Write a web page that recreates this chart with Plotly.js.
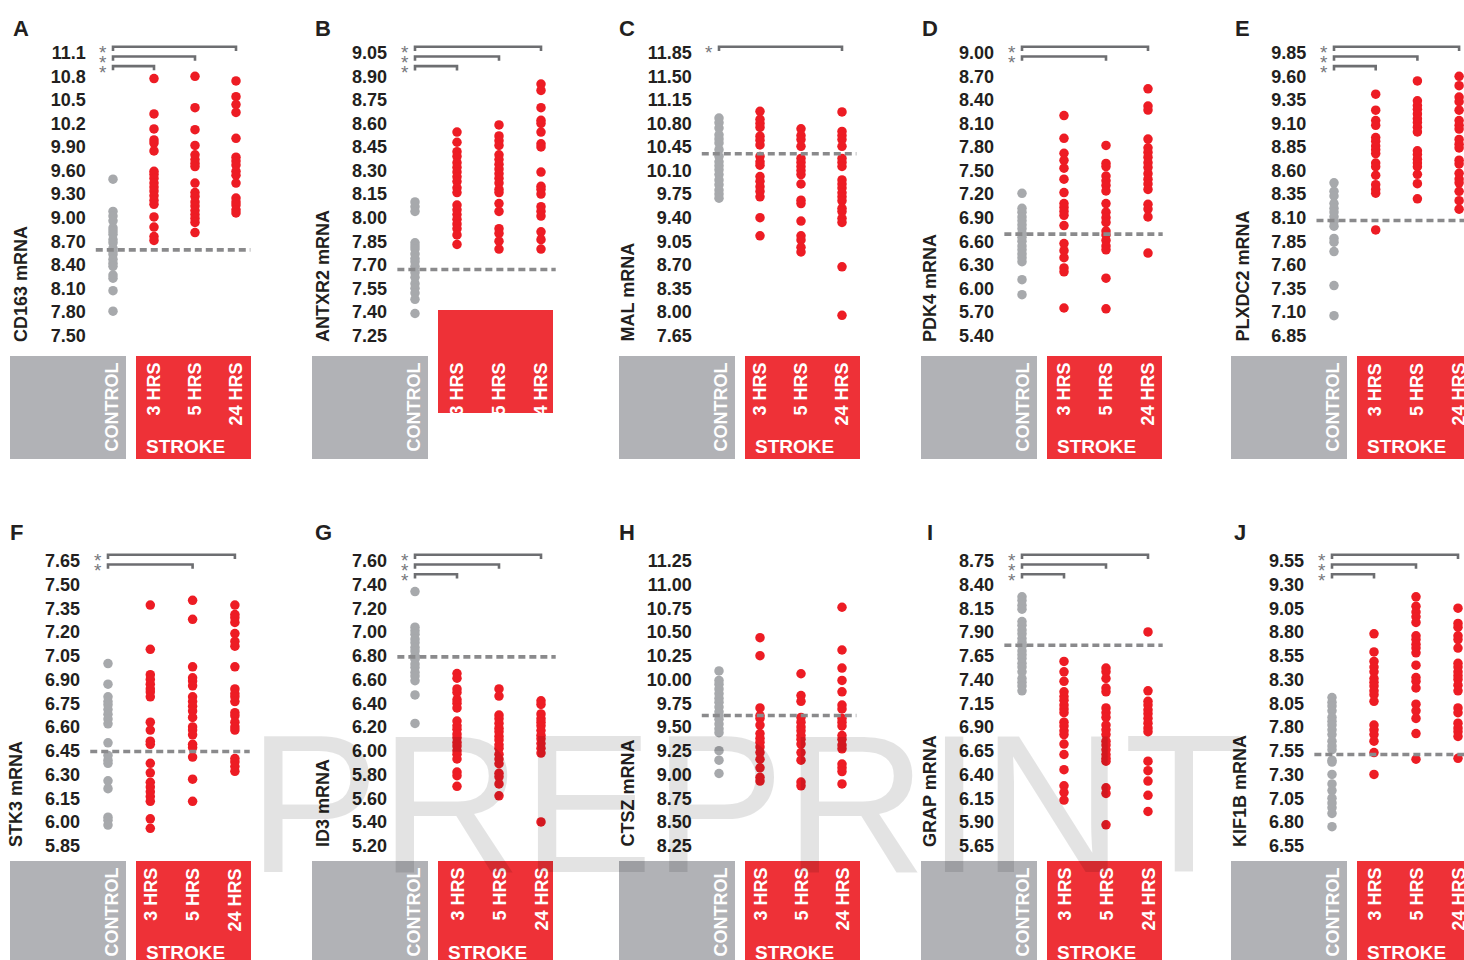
<!DOCTYPE html>
<html><head><meta charset="utf-8">
<script src="https://cdn.plot.ly/plotly-3.0.1.min.js"></script>
<style>html,body{margin:0;padding:0;background:#fff;}#chart{width:1464px;height:960px;}</style>
</head><body><div id="chart"></div>
<script>
// ---------- DATA ----------
const groups = ['CONTROL', '3 HRS', '5 HRS', '24 HRS'];
const panelLetters = ['A','B','C','D','E','F','G','H','I','J'];
const genes = ['CD163','ANTXR2','MAL','PDK4','PLXDC2','STK3','ID3','CTSZ','GRAP','KIF1B'];

const ticksCD163  = ['7.50','7.80','8.10','8.40','8.70','9.00','9.30','9.60','9.90','10.2','10.5','10.8','11.1'];
const ticksANTXR2 = ['7.25','7.40','7.55','7.70','7.85','8.00','8.15','8.30','8.45','8.60','8.75','8.90','9.05'];
const ticksMAL    = ['7.65','8.00','8.35','8.70','9.05','9.40','9.75','10.10','10.45','10.80','11.15','11.50','11.85'];
const ticksPDK4   = ['5.40','5.70','6.00','6.30','6.60','6.90','7.20','7.50','7.80','8.10','8.40','8.70','9.00'];
const ticksPLXDC2 = ['6.85','7.10','7.35','7.60','7.85','8.10','8.35','8.60','8.85','9.10','9.35','9.60','9.85'];
const ticksSTK3   = ['5.85','6.00','6.15','6.30','6.45','6.60','6.75','6.90','7.05','7.20','7.35','7.50','7.65'];
const ticksID3    = ['5.20','5.40','5.60','5.80','6.00','6.20','6.40','6.60','6.80','7.00','7.20','7.40','7.60'];
const ticksCTSZ   = ['8.25','8.50','8.75','9.00','9.25','9.50','9.75','10.00','10.25','10.50','10.75','11.00','11.25'];
const ticksGRAP   = ['5.65','5.90','6.15','6.40','6.65','6.90','7.15','7.40','7.65','7.90','8.15','8.40','8.75'];
const ticksKIF1B  = ['6.55','6.80','7.05','7.30','7.55','7.80','8.05','8.30','8.55','8.80','9.05','9.30','9.55'];

const cd163Control = [9.49,9.08,9.02,8.96,8.87,8.83,8.79,8.72,8.68,8.61,8.57,8.53,8.47,8.42,8.38,8.27,8.23,8.07,7.81];
const cd163Hr3  = [10.77,10.32,10.13,9.99,9.95,9.85,9.59,9.55,9.50,9.44,9.39,9.34,9.28,9.22,9.17,9.01,8.88,8.76,8.71];
const cd163Hr5  = [10.80,10.40,10.12,9.92,9.80,9.74,9.69,9.65,9.44,9.32,9.27,9.20,9.15,9.09,9.04,8.99,8.94,8.81];
const cd163Hr24 = [10.74,10.54,10.44,10.34,10.01,9.77,9.72,9.67,9.59,9.54,9.44,9.25,9.20,9.16,9.10,9.06];

const antxr2Control = [8.10,8.07,8.04,7.84,7.82,7.80,7.77,7.74,7.72,7.69,7.65,7.62,7.58,7.55,7.52,7.48,7.39];
const antxr2Hr3  = [8.545,8.48,8.42,8.39,8.35,8.32,8.29,8.26,8.23,8.19,8.16,8.08,8.05,8.02,7.99,7.96,7.93,7.89,7.83];
const antxr2Hr5  = [8.59,8.52,8.49,8.46,8.40,8.37,8.34,8.31,8.28,8.25,8.22,8.18,8.16,8.09,8.04,7.93,7.90,7.85,7.80];
const antxr2Hr24 = [8.85,8.81,8.70,8.62,8.60,8.545,8.47,8.45,8.29,8.20,8.18,8.15,8.07,8.04,8.01,7.91,7.86,7.80];

const malControl = [10.88,10.81,10.73,10.63,10.57,10.51,10.41,10.31,10.23,10.17,10.11,10.04,9.96,9.89,9.81,9.75,9.69];
const malHr3  = [10.98,10.86,10.80,10.74,10.61,10.55,10.48,10.31,10.23,10.18,10.01,9.94,9.86,9.79,9.71,9.40,9.13];
const malHr5  = [10.72,10.62,10.56,10.46,10.28,10.22,10.16,10.10,10.04,9.90,9.66,9.61,9.35,9.13,9.07,8.96,8.89];
const malHr24 = [10.97,10.68,10.62,10.56,10.46,10.28,10.22,10.16,9.96,9.90,9.84,9.77,9.71,9.65,9.54,9.49,9.39,9.33,8.67,7.95];

const pdk4Control = [7.21,7.02,6.97,6.91,6.86,6.81,6.76,6.70,6.65,6.60,6.54,6.49,6.44,6.39,6.34,6.11,5.92];
const pdk4Hr3  = [8.20,7.91,7.72,7.63,7.53,7.39,7.22,7.08,7.03,6.98,6.93,6.80,6.57,6.48,6.39,6.26,6.21,5.75];
const pdk4Hr5  = [7.82,7.59,7.55,7.43,7.37,7.31,7.24,7.08,6.97,6.90,6.84,6.73,6.68,6.61,6.54,6.49,6.13,5.74];
const pdk4Hr24 = [8.54,8.32,8.27,7.90,7.79,7.73,7.67,7.60,7.54,7.46,7.39,7.33,7.26,7.07,7.01,6.91,6.45];

const plxdc2Control = [8.47,8.38,8.33,8.25,8.20,8.16,8.11,8.06,8.01,7.88,7.84,7.74,7.38,7.06];
const plxdc2Hr3  = [9.41,9.24,9.13,9.08,8.95,8.91,8.86,8.82,8.78,8.68,8.64,8.55,8.45,8.40,8.36,7.97];
const plxdc2Hr5  = [9.55,9.34,9.29,9.25,9.20,9.15,9.11,9.06,9.01,8.81,8.77,8.72,8.68,8.64,8.56,8.46,8.30];
const plxdc2Hr24 = [9.60,9.50,9.38,9.33,9.24,9.13,9.08,9.04,8.93,8.88,8.84,8.71,8.67,8.57,8.51,8.47,8.38,8.28,8.19];

const stk3Control = [7.00,6.87,6.79,6.76,6.74,6.71,6.68,6.65,6.62,6.50,6.42,6.39,6.37,6.26,6.21,6.03,6.01,5.98];
const stk3Hr3  = [7.37,7.09,6.93,6.90,6.87,6.84,6.82,6.79,6.63,6.58,6.51,6.49,6.37,6.31,6.25,6.22,6.19,6.16,6.13,6.02,5.96];
const stk3Hr5  = [7.40,7.28,6.98,6.91,6.89,6.86,6.79,6.76,6.73,6.70,6.66,6.60,6.58,6.55,6.49,6.47,6.41,6.27,6.13];
const stk3Hr24 = [7.37,7.31,7.29,7.26,7.19,7.14,7.11,6.98,6.84,6.81,6.79,6.76,6.69,6.67,6.63,6.60,6.58,6.40,6.38,6.35,6.32];

const id3Control = [7.34,7.04,7.01,6.98,6.94,6.91,6.87,6.84,6.80,6.77,6.73,6.70,6.66,6.63,6.59,6.47,6.23];
const id3Hr3  = [6.65,6.61,6.52,6.49,6.43,6.40,6.36,6.25,6.21,6.18,6.14,6.11,6.07,6.04,6.00,5.97,5.93,5.82,5.79,5.70];
const id3Hr5  = [6.52,6.46,6.30,6.27,6.23,6.19,6.16,6.12,6.09,6.05,6.02,5.97,5.93,5.89,5.81,5.78,5.72,5.62];
const id3Hr24 = [6.42,6.39,6.31,6.27,6.24,6.21,6.17,6.13,6.10,6.06,6.02,5.98,5.40];

const ctszControl = [10.09,9.99,9.95,9.90,9.85,9.80,9.76,9.71,9.66,9.62,9.58,9.53,9.48,9.44,9.25,9.15,9.01];
const ctszHr3  = [10.44,10.25,9.70,9.62,9.59,9.52,9.43,9.38,9.34,9.29,9.23,9.16,9.07,8.97,8.93];
const ctszHr5  = [10.06,9.83,9.77,9.60,9.55,9.50,9.46,9.41,9.37,9.32,9.23,9.15,8.92,8.88];
const ctszHr24 = [10.76,10.31,10.12,9.99,9.87,9.73,9.69,9.59,9.55,9.51,9.41,9.37,9.31,9.27,9.11,9.07,9.03,8.90];

const grapControl = [8.27,8.23,8.18,8.14,8.01,7.97,7.92,7.88,7.83,7.79,7.75,7.70,7.66,7.62,7.57,7.53,7.48,7.41,7.37,7.33,7.28];
const grapHr3  = [7.59,7.48,7.38,7.27,7.22,7.18,7.13,7.09,7.05,6.95,6.91,6.86,6.82,6.72,6.61,6.45,6.28,6.21,6.13];
const grapHr5  = [7.52,7.48,7.41,7.31,7.27,7.10,7.05,7.00,6.92,6.87,6.82,6.75,6.71,6.66,6.61,6.57,6.54,6.26,6.20,5.87];
const grapHr24 = [7.90,7.28,7.17,7.13,7.08,7.04,6.99,6.94,6.89,6.85,6.54,6.44,6.33,6.18,6.01];

const kif1bControl = [8.11,8.06,8.02,7.97,7.90,7.86,7.82,7.77,7.72,7.65,7.60,7.56,7.45,7.43,7.30,7.20,7.13,7.05,7.00,6.95,6.89,6.75];
const kif1bHr3  = [8.78,8.59,8.49,8.43,8.38,8.31,8.27,8.23,8.18,8.14,8.07,7.82,7.77,7.72,7.65,7.53,7.30];
const kif1bHr5  = [9.17,9.07,9.01,8.96,8.90,8.76,8.72,8.67,8.63,8.58,8.45,8.32,8.28,8.21,8.04,7.97,7.89,7.73,7.46];
const kif1bHr24 = [9.05,8.89,8.85,8.76,8.72,8.63,8.47,8.43,8.38,8.34,8.30,8.24,8.18,8.00,7.95,7.84,7.79,7.75,7.70,7.47];

// control-mean reference (dashed line) per panel
const controlMean = [8.59, 7.67, 10.35, 6.69, 8.07, 6.445, 6.79, 9.62, 7.76, 7.51];
// stroke groups (1=3h, 2=5h, 3=24h) significantly different from control
const significant = [[1,2,3],[1,2,3],[3],[2,3],[1,2,3],[2,3],[1,2,3],[],[1,2,3],[1,2,3]];

const tickLabels = [ticksCD163,ticksANTXR2,ticksMAL,ticksPDK4,ticksPLXDC2,ticksSTK3,ticksID3,ticksCTSZ,ticksGRAP,ticksKIF1B];
const panelData = [
  [cd163Control,cd163Hr3,cd163Hr5,cd163Hr24],
  [antxr2Control,antxr2Hr3,antxr2Hr5,antxr2Hr24],
  [malControl,malHr3,malHr5,malHr24],
  [pdk4Control,pdk4Hr3,pdk4Hr5,pdk4Hr24],
  [plxdc2Control,plxdc2Hr3,plxdc2Hr5,plxdc2Hr24],
  [stk3Control,stk3Hr3,stk3Hr5,stk3Hr24],
  [id3Control,id3Hr3,id3Hr5,id3Hr24],
  [ctszControl,ctszHr3,ctszHr5,ctszHr24],
  [grapControl,grapHr3,grapHr5,grapHr24],
  [kif1bControl,kif1bHr3,kif1bHr5,kif1bHr24]
];

// ---------- LAYOUT GEOMETRY (pixels) ----------
const W = 1464, H = 960;
const ctrlPx = [113,415,719,1022,1334,108,415,719,1022,1332];
const stepPx = [41,42,41,42,41.7,42.3,42,41,42,42];
const boxLeft = [10,312,619,921,1231,10,312,619,921,1231];
const tickTopPx = [52.7,560.7], tickBotPx = [335.5,845.7];
const plotTopPx = [36,545], plotBotPx = [352,858];
const boxTopPx = [356,861], boxHpx = 103;
const redBoxShift = [0,-46,0,0,0,0,0,0,0,0];
const titleBotPx = [344,849];
const letterYPx = [28,532];

const FONT = 'Liberation Sans, Arial, Helvetica, sans-serif';
const INK = '#231f20';
const GRAY = '#a7a9ac', RED = '#ed1c24';
const BOXGRAY = '#b1b2b6', BOXRED = '#ee3137';

const px2x = v => v / W;
const px2y = v => 1 - v / H;

const traces = [];
const layout = {
  width: W, height: H,
  margin: {l:0, r:0, t:0, b:0},
  paper_bgcolor: '#ffffff', plot_bgcolor: 'rgba(0,0,0,0)',
  showlegend: false,
  shapes: [], annotations: []
};

for (let p = 0; p < 10; p++) {
  const r = p < 5 ? 0 : 1;
  const n = p + 1;
  const xa = n === 1 ? 'x' : 'x' + n, ya = n === 1 ? 'y' : 'y' + n;
  const xk = n === 1 ? 'xaxis' : 'xaxis' + n, yk = n === 1 ? 'yaxis' : 'yaxis' + n;
  const labels = tickLabels[p];
  const lo = parseFloat(labels[0]);
  const dv = parseFloat(labels[1]) - lo;
  const tv = labels.map((s, i) => +(lo + i * dv).toFixed(4));
  const nInt = labels.length - 1;
  const ppu = (tickBotPx[r] - tickTopPx[r]) / (nInt * dv);
  const valAt = py => lo + (tickBotPx[r] - py) / ppu;
  const ctrl = ctrlPx[p], st = stepPx[p];
  const pxL = ctrl - 0.64 * st;
  const pxR = Math.min(ctrl + 3.5 * st, W);

  layout[xk] = {
    domain: [px2x(pxL), px2x(pxR)], range: [(pxL - ctrl) / st, (pxR - ctrl) / st],
    anchor: ya, visible: false, fixedrange: true
  };
  layout[yk] = {
    domain: [px2y(plotBotPx[r]), px2y(plotTopPx[r])], range: [valAt(plotBotPx[r]), valAt(plotTopPx[r])],
    anchor: xa, tickmode: 'array', tickvals: tv, ticktext: labels,
    showgrid: false, zeroline: false, showline: false, ticks: '',
    tickfont: {family: FONT, size: 18, weight: 'bold', color: INK}, fixedrange: true
  };

  panelData[p].forEach((vals, g) => {
    traces.push({
      type: 'scatter', mode: 'markers', xaxis: xa, yaxis: ya,
      x: vals.map(() => g), y: vals, name: groups[g], hoverinfo: 'y',
      marker: {size: 9.5, color: g === 0 ? GRAY : RED, line: {width: 0}}
    });
  });

  // dashed control reference
  layout.shapes.push({type: 'line', xref: xa, yref: ya, x0: -0.42, x1: 3.35, y0: controlMean[p], y1: controlMean[p],
    line: {color: '#8a8a8c', width: 3.6, dash: '7px,4px'}});

  // significance brackets
  const topTick = tv[tv.length - 1];
  significant[p].forEach(g => {
    const level = 3 - g;
    const yb = topTick + (0.25 - 0.41 * level) * dv;
    const drop = 0.18 * dv;
    layout.shapes.push({type: 'path', xref: xa, yref: ya,
      path: `M0,${yb - drop} L0,${yb} L${g},${yb} L${g},${yb - drop}`,
      line: {color: '#6d6e71', width: 2.6}});
    layout.annotations.push({text: '*', xref: 'paper', yref: ya, x: px2x(ctrl - 10), y: yb,
      xanchor: 'center', yanchor: 'middle', yshift: -6, showarrow: false,
      font: {family: FONT, size: 19, color: '#77787b'}});
  });

  // panel letter
  layout.annotations.push({text: panelLetters[p], xref: 'paper', yref: 'paper', x: px2x(ctrl - 92), y: px2y(letterYPx[r]),
    xanchor: 'center', yanchor: 'middle', showarrow: false, font: {family: FONT, size: 22, weight: 'bold', color: INK}});
  // axis title
  layout.annotations.push({text: genes[p] + ' mRNA', xref: 'paper', yref: 'paper', x: px2x(ctrl - 92), y: px2y(titleBotPx[r]),
    xanchor: 'center', yanchor: 'bottom', textangle: -90, showarrow: false,
    font: {family: FONT, size: 18, weight: 'bold', color: INK}});

  // group label boxes
  const bl = boxLeft[p], bt = boxTopPx[r];
  const grayR = bl + 116, redL = bl + 126, redR = Math.min(bl + 241, W + 5);
  layout.shapes.push({type: 'rect', xref: 'paper', yref: 'paper', layer: 'below',
    x0: px2x(bl), x1: px2x(grayR), y0: px2y(bt + boxHpx), y1: px2y(bt), fillcolor: BOXGRAY, line: {width: 0}});
  layout.shapes.push({type: 'rect', xref: 'paper', yref: 'paper', layer: 'below',
    x0: px2x(redL), x1: px2x(redR), y0: px2y(bt + boxHpx + redBoxShift[p]), y1: px2y(bt + redBoxShift[p]), fillcolor: BOXRED, line: {width: 0}});
  layout.annotations.push({text: groups[0], xref: 'paper', yref: 'paper', x: px2x(grayR - 15), y: px2y(bt + 98),
    xanchor: 'center', yanchor: 'bottom', textangle: -90, showarrow: false,
    font: {family: FONT, size: 18, weight: 'bold', color: '#ffffff'}});
  for (let g = 1; g < 4; g++) {
    layout.annotations.push({text: groups[g], xref: 'paper', yref: 'paper', x: px2x(ctrl + g * st), y: px2y(bt + 5),
      xanchor: 'center', yanchor: 'top', textangle: -90, showarrow: false,
      font: {family: FONT, size: 18, weight: 'bold', color: '#ffffff'}});
  }
  layout.annotations.push({text: 'STROKE', xref: 'paper', yref: 'paper', x: px2x(redL + 8), y: px2y(bt + 91),
    xanchor: 'left', yanchor: 'middle', showarrow: false,
    font: {family: FONT, size: 19, weight: 'bold', color: '#ffffff'}});
}

// watermark
layout.annotations.push({text: 'PREPRINT', xref: 'paper', yref: 'paper', x: px2x(746), y: px2y(804),
  xanchor: 'center', yanchor: 'middle', showarrow: false,
  font: {family: FONT, size: 197, color: 'rgba(0,0,0,0.11)'}});

Plotly.newPlot('chart', traces, layout, {staticPlot: true, displayModeBar: false});
</script>
</body></html>
